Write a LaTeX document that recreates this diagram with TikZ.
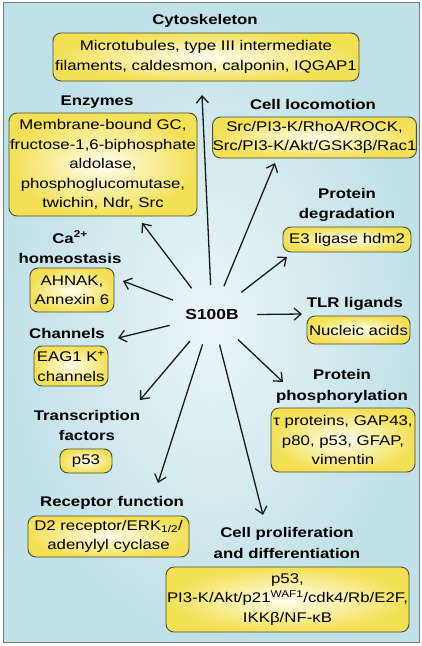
\documentclass[tikz,border=0pt]{standalone}
\usepackage{fontspec}
\setmainfont{Liberation Sans}[FakeStretch=1.2]
\usetikzlibrary{arrows.meta,shapes.geometric}
\definecolor{bgin}{HTML}{EBF6F8}
\definecolor{bgout}{HTML}{C0E1E8}
\definecolor{boxin}{HTML}{FFFEF0}
\definecolor{boxout}{HTML}{F3E055}
\definecolor{boxline}{HTML}{4E4B32}
\definecolor{framecol}{HTML}{7A7A7A}
\definecolor{arr}{HTML}{1A1A1A}
\begin{document}
\begin{tikzpicture}[x=1pt,y=-1pt,
  every node/.style={font=\fontsize{14}{19.5}\selectfont, align=center, inner sep=0pt, outer sep=0pt},
  title/.style={font=\fontsize{14}{20.5}\selectfont\bfseries},
  infobox/.style={draw=boxline, line width=0.9pt, rounded corners=8pt, inner color=boxin, outer color=boxout},
  arrow/.style={draw=arr, line width=1.3pt, -{Straight Barb[length=7pt,width=12pt]}}]
\path[use as bounding box] (0,0) rectangle (422,646);
\draw[framecol, line width=1pt, inner color=bgin, outer color=bgout] (3,2) rectangle (419,642);

% titles
\node[title] (tcyto) at (205,21) {Cytoskeleton};
\node[title] (tenz) at (97,102) {Enzymes};
\node[title] (tloco) at (313,104) {Cell locomotion};
\node[title] (tdeg) at (347,205) {Protein\\degradation};
\node[title] (tca) at (70,247.5) {Ca\textsuperscript{2+}\\homeostasis};
\node[title] (ttlr) at (355,304) {TLR ligands};
\node[title] (tch) at (67,333) {Channels};
\node[title] (tphos) at (342,386.5) {Protein\\phosphorylation};
\node[title] (ttf) at (87,425.5) {Transcription\\factors};
\node[title] (trec) at (112,503) {Receptor function};
\node[title] (tprol) at (287,543) {Cell proliferation\\and differentiation};

% boxes
\node[infobox, minimum width=306pt, minimum height=48pt] (bcyto) at (206,57)
  {Microtubules, type III intermediate\\filaments, caldesmon, calponin, IQGAP1};
\node[infobox, minimum width=188pt, minimum height=103pt] (benz) at (103,164.5)
  {Membrane-bound GC,\\fructose-1,6-biphosphate\\aldolase,\\phosphoglucomutase,\\twichin, Ndr, Src};
\node[infobox, minimum width=203pt, minimum height=41pt] (bloco) at (314.5,137.5)
  {Src/PI3-K/RhoA/ROCK,\\Src/PI3-K/Akt/GSK3β/Rac1};
\node[infobox, minimum width=128pt, minimum height=25pt] (bdeg) at (347,239.5) {E3 ligase hdm2};
\node[infobox, minimum width=84pt, minimum height=44pt] (bca) at (72,290) {AHNAK,\\Annexin 6};
\node[infobox, minimum width=103pt, minimum height=28pt] (btlr) at (358.5,330) {Nucleic acids};
\node[infobox, minimum width=74pt, minimum height=40pt] (bch) at (71,366) {EAG1 K\textsuperscript{+}\\channels};
\node[infobox, minimum width=144pt, minimum height=64pt] (bphos) at (343,440)
  {τ proteins, GAP43,\\p80, p53, GFAP,\\vimentin};
\node[infobox, minimum width=52pt, minimum height=24pt] (btf) at (86,461) {p53};
\node[infobox, minimum width=161pt, minimum height=41pt] (brec) at (108.5,536.5)
  {D2 receptor/ERK\textsubscript{1/2}/\\adenylyl cyclase};
\node[infobox, minimum width=243pt, minimum height=65pt] (bprol) at (287.5,599.5)
  {p53,\\PI3-K/Akt/p21\textsuperscript{WAF1}/cdk4/Rb/E2F,\\IKKβ/NF-κB};

% centre
\node[ellipse, minimum width=90pt, minimum height=60pt, font=\fontsize{14.5}{17}\selectfont\bfseries] (s100b) at (212,315) {S100B};

% arrow tips
\coordinate (t1) at (202,95);
\coordinate (t2) at (275,163);
\coordinate (t3) at (142,223);
\coordinate (t4) at (287,257);
\coordinate (t5) at (123,281);
\coordinate (t6) at (302,314);
\coordinate (t7) at (118,338);
\coordinate (t8) at (283,382);
\coordinate (t9) at (140,400);
\coordinate (t10) at (158,483);
\coordinate (t11) at (263,515);

\foreach \t in {t1,t2,t3,t4,t5,t6,t7,t8,t9,t10,t11}
  \draw[arrow] (s100b) -- (\t);
\end{tikzpicture}
\end{document}
